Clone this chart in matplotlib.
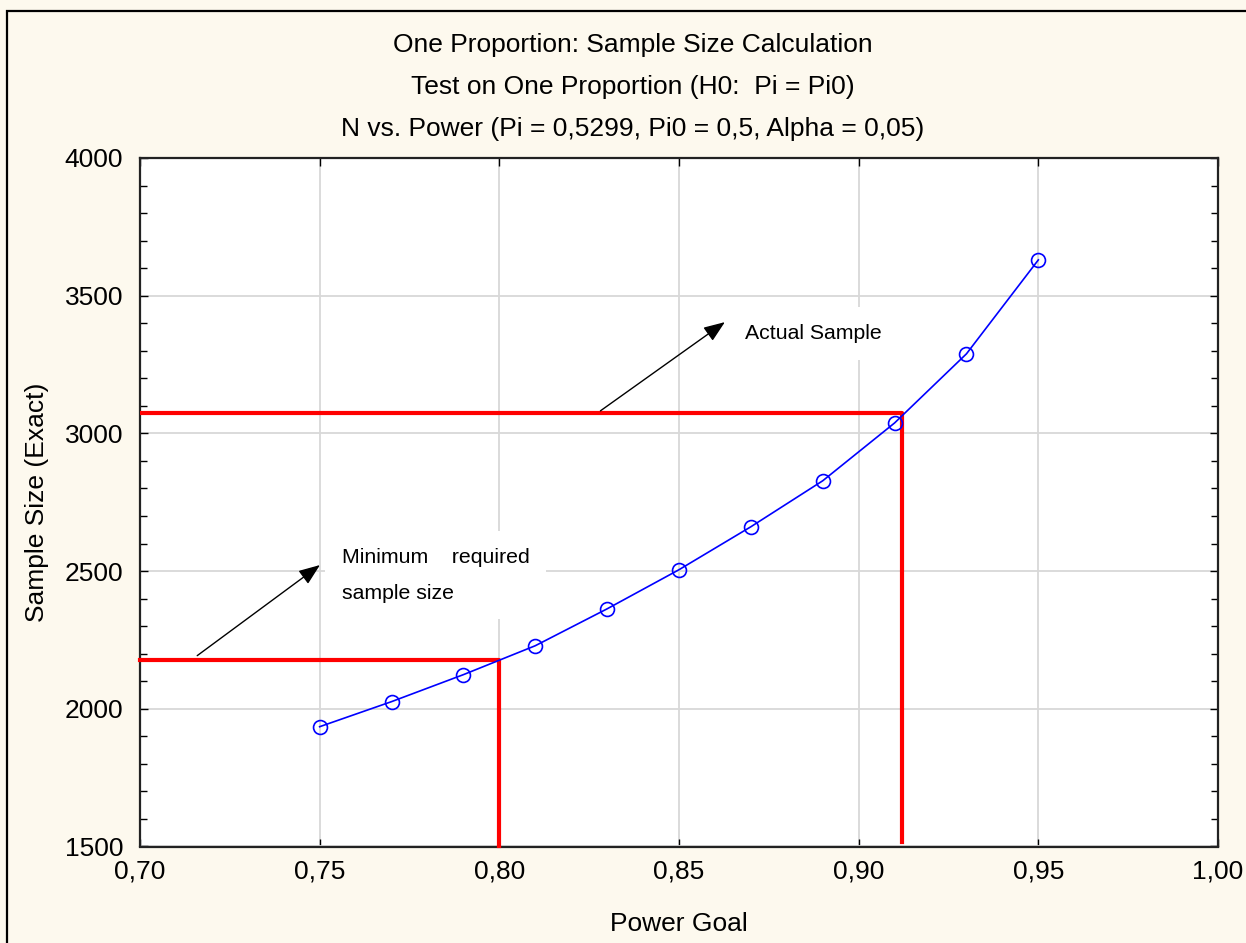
import numpy as np
import matplotlib
matplotlib.use("Agg")
import matplotlib.pyplot as plt
from matplotlib.patches import Rectangle

plt.rcParams['font.family'] = ['Liberation Sans', 'DejaVu Sans']

# data
power = [0.75, 0.77, 0.79, 0.81, 0.83, 0.85, 0.87, 0.89, 0.91, 0.93, 0.95]
sample_n = [1935, 2026, 2124, 2229, 2363, 2505, 2661, 2828, 3038, 3289, 3630]

min_power, min_n = 0.80, 2177      # minimum required sample
act_power, act_n = 0.912, 3073     # actual sample

x_ticks = [0.70, 0.75, 0.80, 0.85, 0.90, 0.95, 1.00]
x_labels = ["0,70", "0,75", "0,80", "0,85", "0,90", "0,95", "1,00"]
y_ticks = [1500, 2000, 2500, 3000, 3500, 4000]
y_labels = ["1500", "2000", "2500", "3000", "3500", "4000"]

titles = ["One Proportion: Sample Size Calculation",
          "Test on One Proportion (H0:  Pi = Pi0)",
          "N vs. Power (Pi = 0,5299, Pi0 = 0,5, Alpha = 0,05)"]

W, H = 1246, 943
bg = '#FDF9EE'
fs = 19
fig = plt.figure(figsize=(W / 100, H / 100), dpi=100, facecolor=bg)
ax = fig.add_axes([140 / W, 1 - 846.5 / H, (1218 - 140) / W, (846.5 - 158) / H])
ax.set_facecolor('white')

# outer frame
fig.patches.append(Rectangle((7 / W, -0.05), 1.1, 1 - 11 / H + 0.05, transform=fig.transFigure,
                             fill=False, edgecolor='black', linewidth=1.6, zorder=0))

ax.set_xlim(0.70, 1.00)
ax.set_ylim(1500, 4000)
ax.set_xticks(x_ticks)
ax.set_xticklabels(x_labels)
ax.set_yticks(y_ticks)
ax.set_yticklabels(y_labels)
ax.set_yticks(np.arange(1500, 4001, 100), minor=True)
ax.tick_params(which='both', direction='in', top=True, right=True, labelsize=fs)
ax.tick_params(axis='y', pad=12)
ax.tick_params(axis='x', pad=9)
ax.tick_params(which='major', length=6, width=1)
ax.tick_params(which='minor', length=5, width=1)
ax.grid(True, color='#D8D8D8', linewidth=1.3)
ax.set_axisbelow(True)
for s in ax.spines.values():
    s.set_linewidth(1.6)
    s.set_color('#222222')

# red reference lines
ax.plot([0.70, min_power, min_power], [min_n, min_n, 1500], color='#FF0000', lw=3, zorder=3, clip_on=False)
ax.plot([0.70, act_power, act_power], [act_n, act_n, 1515], color='#FF0000', lw=3, zorder=3)

# curve
ax.plot(power, sample_n, color='#0000FF', lw=1.2, marker='o', markersize=10,
        markerfacecolor='none', markeredgewidth=1.2, zorder=4)

# annotations
arrow = dict(arrowstyle='-|>,head_length=0.65,head_width=0.25', color='black', lw=1, mutation_scale=20)
ax.annotate('', xy=(0.7507, 2528), xytext=(0.7153, 2187), arrowprops=arrow)
ax.annotate('', xy=(0.8634, 3410), xytext=(0.8275, 3076), arrowprops=arrow)
ax.text(0.7562, 2485, "Minimum    required\nsample size", fontsize=15.3, va='center', ha='left',
        linespacing=2.15, zorder=5,
        bbox=dict(facecolor='white', edgecolor='none', pad=12))
ax.text(0.8684, 3363, "Actual Sample", fontsize=15.3, va='center', ha='left', zorder=5,
        bbox=dict(facecolor='white', edgecolor='none', pad=12))

for i, t in enumerate(titles):
    fig.text(633 / W, 1 - (45 + 42 * i) / H, t, ha='center', va='center', fontsize=fs)

fig.text(37 / W, 1 - 502 / H, 'Sample Size (Exact)', rotation=90, ha='center', va='center', fontsize=fs)
fig.text(679 / W, 1 - 924 / H, 'Power Goal', ha='center', va='center', fontsize=fs)

fig.savefig('out.png', dpi=100, facecolor=bg)
